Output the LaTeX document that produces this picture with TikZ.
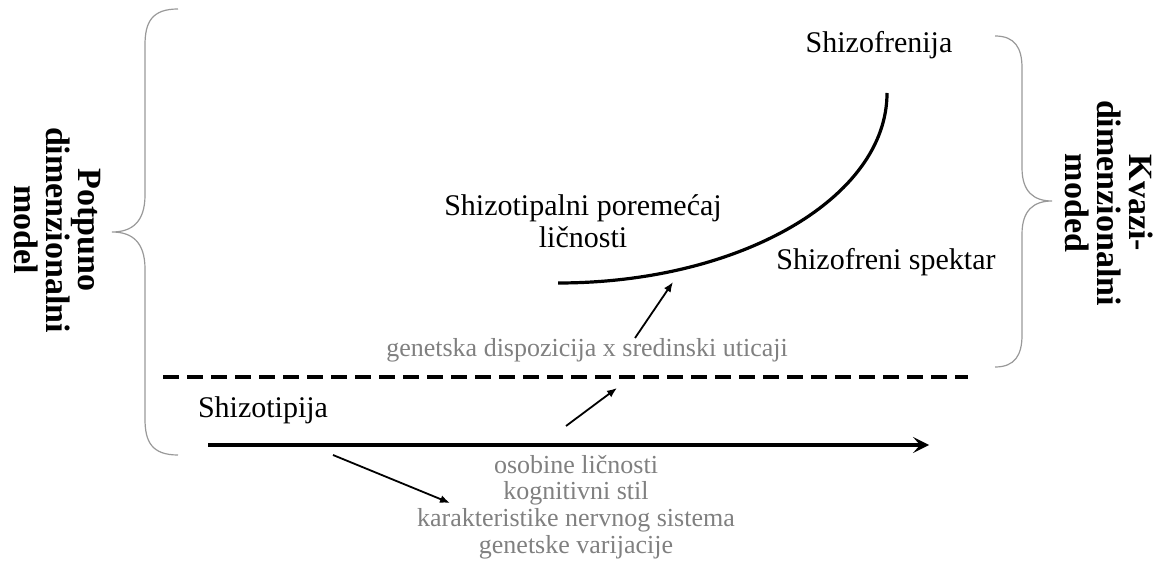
\documentclass[tikz,border=0pt]{standalone}
\usepackage{fontspec}
\setmainfont{Liberation Serif}
\usetikzlibrary{arrows.meta}

\begin{document}
\begin{tikzpicture}[
  x=0.5pt, y=-0.5pt,
  >={Latex[length=5pt,width=4pt]},
  lbl/.style={font=\fontsize{15}{16}\selectfont, align=center, inner sep=0pt},
  note/.style={font=\fontsize{13}{13.3}\selectfont, text=black!50, align=center, inner sep=0pt},
  side/.style={font=\fontsize{17}{16}\selectfont\bfseries, align=center, rotate=-90, inner sep=0pt},
  brace/.style={draw=black!40, line width=0.6pt},
  axis/.style={line width=2pt, -{Stealth[length=8pt,width=8pt,inset=3.5pt]}},
  link/.style={line width=0.9pt, ->}
]
  \useasboundingbox (0,0) rectangle (1154,565);

  % Labels
  \node[lbl] (szf)   at (879,45)  {Shizofrenija};
  \node[lbl] (stpl)  at (583,221) {Shizotipalni poremećaj\\ličnosti};
  \node[lbl] (spek)  at (886,262) {Shizofreni spektar};
  \node[lbl] (sztip) at (263,410) {Shizotipija};
  \node[note] (gen)  at (587,350) {genetska dispozicija x sredinski uticaji};
  \node[note] (osob) at (576,507) {osobine ličnosti\\kognitivni stil\\karakteristike nervnog sistema\\genetske varijacije};

  % Side titles
  \node[side] (full)  at (57,230)   {Potpuno\\dimenzionalni\\model};
  \node[side] (quasi) at (1109,203) {Kvazi-\\dimenzionalni\\moded};

  % Braces
  \draw[brace] (178,9) .. controls (152,9) and (145,22) .. (145,45) -- (145,195)
    .. controls (145,222) and (132,232) .. (112,232)
    .. controls (132,232) and (145,242) .. (145,269) -- (145,419)
    .. controls (145,442) and (152,455) .. (178,455);
  \draw[brace] (995,36) .. controls (1015,36) and (1022,48) .. (1022,68) -- (1022,168)
    .. controls (1022,192) and (1034,201) .. (1052,201)
    .. controls (1034,201) and (1022,210) .. (1022,234) -- (1022,335)
    .. controls (1022,355) and (1015,367) .. (995,367);

  % Spectrum curve
  \coordinate (curveL) at (558,283);
  \draw[line width=1.6pt] (curveL) arc[start angle=90, end angle=0, x radius=329, y radius=190];

  % Dashed border and axis
  \coordinate (dashL) at (163,377);
  \coordinate (dashR) at (968,377);
  \draw[line width=2pt, dash pattern=on 8pt off 4pt] (dashL) -- (dashR);
  \coordinate (axisL) at (208,445);
  \coordinate (axisR) at (929,445);
  \draw[axis] (axisL) -- (axisR);

  % Arrows
  \coordinate (genS) at (635,338);
  \coordinate (genE) at (673,282);
  \draw[link] (genS) -- (genE);
  \coordinate (upS) at (566,426);
  \coordinate (upE) at (617,388);
  \draw[link] (upS) -- (upE);
  \coordinate (dnS) at (333,455);
  \coordinate (dnE) at (450,503);
  \draw[link] (dnS) -- (dnE);
\end{tikzpicture}
\end{document}
